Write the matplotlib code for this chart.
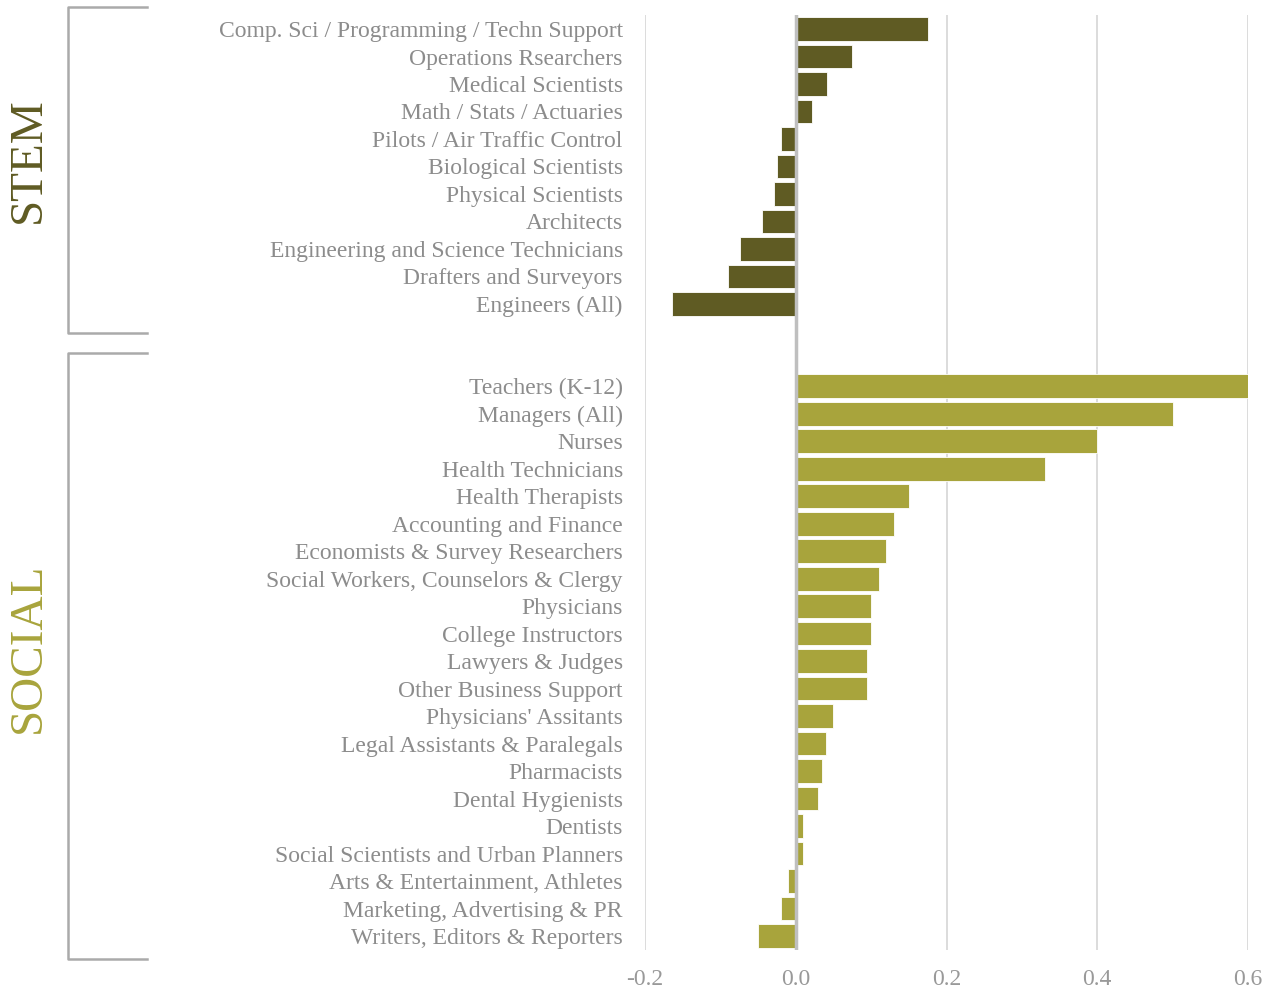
import matplotlib.pyplot as plt
from matplotlib.ticker import FixedLocator, FuncFormatter

stem_labels = [
    "Comp. Sci / Programming / Techn Support",
    "Operations Rsearchers",
    "Medical Scientists",
    "Math / Stats / Actuaries",
    "Pilots / Air Traffic Control",
    "Biological Scientists",
    "Physical Scientists",
    "Architects",
    "Engineering and Science Technicians",
    "Drafters and Surveyors",
    "Engineers (All)",
]
stem_values = [0.175, 0.075, 0.041, 0.021, -0.02, -0.025, -0.029, -0.045, -0.074, -0.09, -0.164]

social_labels = [
    "Teachers (K-12)",
    "Managers (All)",
    "Nurses",
    "Health Technicians",
    "Health Therapists",
    "Accounting and Finance",
    "Economists & Survey Researchers",
    "Social Workers, Counselors & Clergy",
    "Physicians",
    "College Instructors",
    "Lawyers & Judges",
    "Other Business Support",
    "Physicians' Assitants",
    "Legal Assistants & Paralegals",
    "Pharmacists",
    "Dental Hygienists",
    "Dentists",
    "Social Scientists and Urban Planners",
    "Arts & Entertainment, Athletes",
    "Marketing, Advertising & PR",
    "Writers, Editors & Reporters",
]
social_values = [0.6, 0.5, 0.4, 0.33, 0.15, 0.13, 0.12, 0.11, 0.1, 0.1, 0.095, 0.095,
                 0.05, 0.04, 0.035, 0.03, 0.01, 0.01, -0.01, -0.02, -0.05]

x_ticks = [-0.2, 0.0, 0.2, 0.4, 0.6]

STEM_COLOR = "#5f5b23"
SOCIAL_COLOR = "#a8a43c"
TEXT_GRAY = "#8c8c8c"
FONT = ["Liberation Serif", "DejaVu Serif"]

plt.rcParams["font.family"] = FONT

fig = plt.figure(figsize=(12.73, 9.92), dpi=100)
ax = fig.add_axes([0.5067, 0.0426, 0.4737, 0.942])

gap = 2
stem_pos = list(range(len(stem_labels)))
social_pos = [len(stem_labels) + gap + i for i in range(len(social_labels))]

ax.barh(stem_pos, stem_values, height=0.86, color=STEM_COLOR, edgecolor="white", linewidth=0.6, zorder=3)
ax.barh(social_pos, social_values, height=0.86, color=SOCIAL_COLOR, edgecolor="white", linewidth=0.6, zorder=3)

ax.set_xlim(-0.2, 0.6)
ax.set_ylim(social_pos[-1] + 0.5, -0.5)

ax.set_yticks(stem_pos + social_pos)
ax.set_yticklabels(stem_labels + social_labels, fontsize=17, color=TEXT_GRAY)
ax.tick_params(axis="y", length=0, pad=16)

ax.xaxis.set_major_locator(FixedLocator(x_ticks))
ax.xaxis.set_major_formatter(FuncFormatter(lambda v, p: f"{v:.1f}".replace("\u2212", "-")))
ax.tick_params(axis="x", length=0, pad=14, labelsize=17, labelcolor="#999999")

for t in x_ticks:
    if t != 0:
        ax.axvline(t, color="#d9d9d9", linewidth=1.3, zorder=1)
ax.axvline(0, color="#bfbfbf", linewidth=2.5, zorder=4)

for s in ax.spines.values():
    s.set_visible(False)

# group brackets on the left
def bracket(y_top, y_bot):
    x0, x1 = 68 / 1273, 147 / 1273
    yt, yb = 1 - y_top / 992, 1 - y_bot / 992
    fig.add_artist(plt.Line2D([x1, x0, x0, x1], [yt, yt, yb, yb],
                              color="#aaaaaa", linewidth=1.8, transform=fig.transFigure))

bracket(7, 333)
bracket(353, 959)

fig.text(29 / 1273, 1 - 160 / 992, "STEM", rotation=90, ha="center", va="center",
         fontsize=34, color=STEM_COLOR)
fig.text(29 / 1273, 1 - 648 / 992, "SOCIAL", rotation=90, ha="center", va="center",
         fontsize=34, color=SOCIAL_COLOR)

fig.savefig("out.png", dpi=100, facecolor="white")
